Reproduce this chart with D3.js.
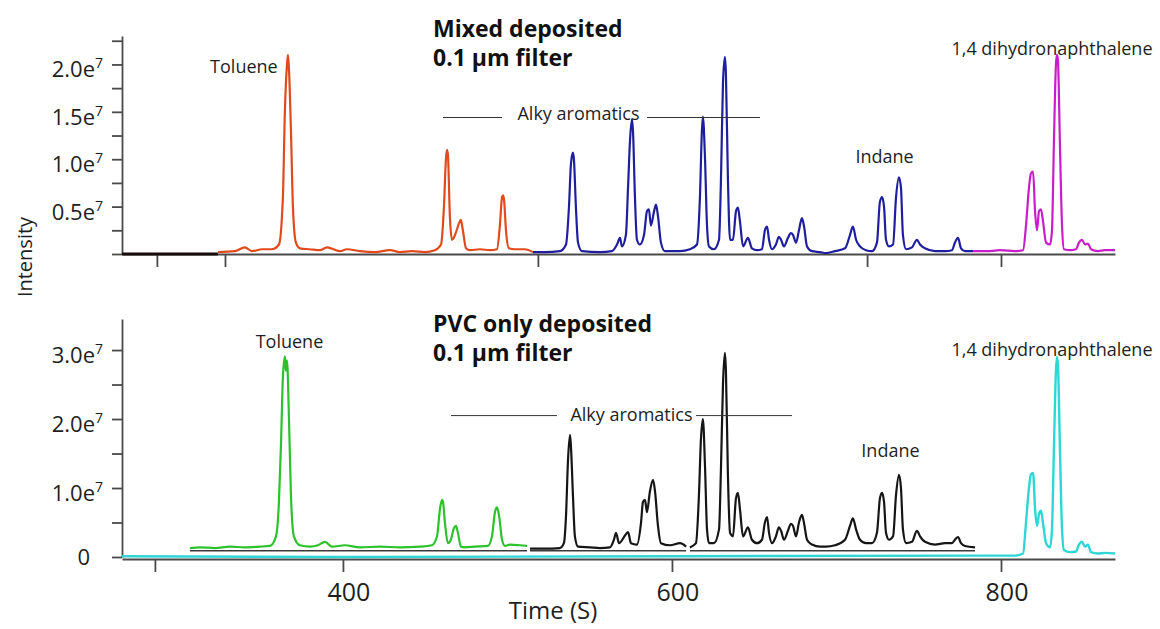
<!DOCTYPE html>
<html>
<head>
<meta charset="utf-8">
<script src="https://cdn.jsdelivr.net/npm/d3@7"></script>
<style>
  html, body { margin: 0; padding: 0; background: #fff; }
  svg { display: block; font-family: "Open Sans", "DejaVu Sans", sans-serif; }
</style>
</head>
<body>
<svg id="chart" width="1160" height="629"></svg>
<script>
// ---------------- DATA (time in s, intensity in units of 1e7) ----------------
const timeDomain = [265.7, 869.3];
const topYMax = 2.3;
const bottomYMax = 3.45;

const topXTicks = [286.9, 328.3, 518.5, 718.6, 800];
const bottomXTicks = [285.7, 400, 600, 800];
const bottomXTickLabels = ["", "400", "600", "800"];

const topYTicks = [0, 0.25, 0.5, 0.75, 1.0, 1.25, 1.5, 1.75, 2.0, 2.25];
const topYTickLabels = ["", "", "0.5e7", "", "1.0e7", "", "1.5e7", "", "2.0e7", ""];
const bottomYTicks = [0, 0.5, 1.0, 1.5, 2.0, 2.5, 3.0];
const bottomYTickLabels = ["0", "", "1.0e7", "", "2.0e7", "", "3.0e7"];

// Mixed deposited trace (segments by colour)
const mixedBlack = [[265.7, 0], [324.0, 0]];
const mixedOrange = [[324.0,0.02],[334.3,0.03],[340.4,0.07],[344.7,0.03],[350.8,0.05],[356.8,0.05],[361.1,0.1],[363.5,0.6],[364.7,1.5],[366.0,2.0],[366.6,2.1],[367.2,1.95],[368.4,1.3],[369.6,0.5],[371.4,0.12],[373.9,0.06],[379.9,0.05],[386.0,0.04],[390.3,0.07],[398.2,0.03],[402.4,0.05],[410.3,0.03],[419.5,0.02],[428.6,0.04],[434.7,0.02],[441.9,0.03],[449.8,0.02],[455.9,0.04],[459.6,0.1],[461.4,0.5],[462.6,1.0],[463.2,1.1],[463.8,1.05],[465.0,0.4],[466.3,0.15],[468.1,0.2],[470.5,0.32],[471.7,0.36],[472.9,0.25],[474.8,0.06],[477.2,0.04],[483.3,0.05],[489.4,0.04],[493.6,0.05],[495.4,0.3],[496.7,0.6],[497.3,0.62],[497.9,0.58],[499.1,0.25],[500.9,0.06],[504.6,0.05],[510.6,0.05],[515.5,0.02]];
const mixedBlue = [[515.5,0.02],[522.8,0.02],[531.9,0.03],[535.6,0.1],[537.4,0.5],[538.6,0.95],[539.8,1.07],[540.4,1.0],[541.6,0.5],[542.9,0.12],[545.3,0.03],[556.2,0.02],[563.5,0.03],[566.6,0.1],[568.4,0.17],[569.6,0.08],[572.0,0.2],[573.3,0.7],[574.5,1.2],[575.7,1.42],[576.3,1.3],[577.5,0.6],[578.7,0.15],[580.5,0.1],[583.0,0.2],[584.8,0.45],[586.0,0.47],[587.2,0.3],[589.1,0.45],[590.3,0.52],[591.5,0.4],[593.3,0.12],[595.7,0.03],[604.9,0.03],[610.9,0.05],[615.2,0.1],[617.0,0.6],[618.2,1.3],[618.8,1.45],[620.1,1.0],[621.3,0.3],[622.5,0.08],[625.5,0.05],[628.6,0.15],[629.8,0.8],[631.0,1.8],[632.2,2.08],[632.8,1.9],[634.0,0.8],[635.3,0.15],[637.1,0.15],[638.9,0.45],[640.1,0.49],[641.3,0.35],[643.2,0.08],[646.2,0.17],[648.6,0.06],[651.7,0.04],[654.7,0.05],[656.5,0.25],[657.8,0.29],[659.0,0.15],[660.8,0.05],[663.2,0.1],[665.0,0.18],[666.3,0.15],[668.1,0.08],[670.5,0.17],[672.3,0.22],[673.6,0.2],[675.4,0.12],[677.2,0.25],[679.0,0.38],[680.2,0.3],[682.1,0.08],[685.1,0.03],[690.0,0.02],[693.6,0.01],[699.1,0.03],[705.2,0.06],[708.2,0.2],[710.0,0.29],[711.9,0.15],[714.3,0.08],[717.9,0.04],[721.6,0.03],[724.6,0.12],[726.4,0.55],[727.7,0.6],[728.9,0.5],[730.1,0.15],[731.9,0.08],[734.4,0.1],[736.2,0.6],[738.0,0.81],[739.2,0.7],[740.4,0.2],[742.3,0.05],[745.9,0.07],[748.9,0.15],[750.8,0.1],[753.8,0.06],[759.9,0.03],[766.0,0.03],[770.2,0.04],[772.0,0.12],[773.9,0.17],[775.7,0.06],[778.1,0.03],[783.0,0.03]];
const mixedMagenta = [[783.0,0.03],[793.3,0.03],[799.4,0.04],[808.5,0.03],[813.4,0.04],[815.2,0.3],[817.0,0.7],[818.2,0.85],[819.5,0.87],[820.7,0.45],[821.9,0.25],[823.1,0.45],[824.3,0.47],[825.5,0.35],[827.4,0.12],[829.8,0.1],[831.0,0.25],[832.2,1.2],[833.4,2.0],[834.0,2.1],[834.6,2.05],[835.9,1.1],[837.1,0.3],[838.3,0.05],[842.0,0.04],[845.6,0.05],[847.4,0.12],[849.2,0.15],[851.1,0.1],[852.9,0.11],[854.7,0.05],[859.0,0.03],[863.2,0.04],[869.3,0.04]];

// PVC only deposited trace
const pvcGreen = [[307.0,0.13],[313.1,0.14],[322.2,0.13],[331.3,0.15],[340.4,0.14],[349.5,0.15],[355.6,0.16],[359.3,0.3],[361.1,0.8],[362.3,1.6],[363.5,2.6],[364.7,2.91],[365.3,2.7],[366.0,2.85],[367.2,2.0],[368.4,0.9],[370.2,0.3],[373.9,0.17],[379.9,0.15],[384.8,0.17],[389.1,0.22],[393.3,0.15],[401.2,0.17],[410.3,0.14],[422.5,0.15],[434.7,0.14],[446.8,0.15],[454.1,0.17],[457.2,0.3],[459.0,0.7],[460.2,0.83],[460.8,0.8],[462.0,0.5],[463.8,0.2],[465.6,0.25],[467.5,0.42],[468.7,0.45],[469.9,0.35],[471.7,0.15],[474.2,0.14],[480.2,0.15],[488.1,0.16],[490.6,0.3],[492.4,0.65],[493.6,0.72],[494.9,0.6],[496.7,0.25],[498.5,0.16],[501.5,0.18],[507.6,0.17],[511.9,0.16]];
const pvcBlackA = [[513.7,0.12],[522.8,0.12],[531.9,0.13],[534.3,0.2],[535.6,0.6],[536.8,1.4],[538.0,1.77],[538.6,1.6],[539.8,0.9],[541.0,0.3],[542.9,0.15],[550.2,0.14],[556.2,0.13],[562.3,0.14],[564.7,0.25],[566.0,0.35],[567.8,0.2],[572.0,0.33],[573.3,0.36],[575.1,0.2],[578.7,0.18],[581.2,0.5],[582.4,0.8],[583.6,0.83],[584.8,0.65],[586.6,0.95],[588.5,1.12],[589.7,0.95],[591.5,0.45],[593.3,0.2],[598.8,0.17],[604.9,0.2],[608.6,0.15]];
const pvcBlackB = [[610.9,0.14],[614.6,0.2],[616.4,0.9],[617.6,1.7],[618.8,2.0],[620.1,1.3],[621.3,0.4],[622.5,0.2],[625.5,0.2],[628.6,0.4],[629.8,1.3],[631.0,2.5],[632.2,2.96],[632.8,2.7],[634.0,1.2],[635.3,0.35],[637.1,0.3],[638.9,0.85],[640.1,0.93],[641.3,0.7],[643.2,0.3],[646.2,0.43],[648.6,0.25],[651.7,0.2],[654.7,0.25],[656.5,0.5],[657.8,0.58],[659.0,0.35],[660.8,0.2],[663.2,0.3],[665.0,0.43],[666.3,0.38],[668.1,0.25],[670.5,0.38],[672.3,0.48],[673.6,0.45],[675.4,0.3],[677.2,0.5],[679.0,0.61],[680.2,0.5],[682.1,0.25],[685.1,0.18],[690.0,0.15],[693.6,0.15],[699.1,0.17],[705.2,0.25],[708.2,0.45],[710.0,0.56],[711.9,0.4],[714.3,0.25],[717.9,0.2],[721.6,0.2],[724.6,0.35],[726.4,0.85],[727.7,0.93],[728.9,0.8],[730.1,0.35],[731.9,0.25],[734.4,0.3],[736.2,0.9],[738.0,1.19],[739.2,1.0],[740.4,0.4],[742.3,0.2],[745.9,0.22],[748.9,0.38],[750.8,0.3],[753.8,0.22],[759.9,0.18],[766.0,0.2],[770.2,0.2],[772.0,0.25],[773.9,0.29],[775.7,0.2],[778.1,0.16],[784.2,0.14]];
const pvcCyan = [[265.7,0.01],[400,0.0],[600,0.01],[793.3,0.02],[808.5,0.02],[813.4,0.05],[815.2,0.5],[817.0,1.0],[818.2,1.2],[819.5,1.22],[820.7,0.7],[821.9,0.45],[823.1,0.62],[824.3,0.67],[825.5,0.5],[827.4,0.2],[829.8,0.14],[831.0,0.4],[832.2,1.6],[833.4,2.7],[834.0,2.9],[834.6,2.8],[835.9,1.5],[837.1,0.4],[838.3,0.1],[842.0,0.07],[845.6,0.08],[847.4,0.18],[849.2,0.22],[851.1,0.15],[852.9,0.18],[854.7,0.07],[859.0,0.05],[863.2,0.06],[869.3,0.05]];
const pvcBaselineSegments = [[307.0, 511.9], [513.7, 608.6], [610.9, 784.2]];
const pvcBaselineLevel = 0.09;

// Annotations
const topTitle = ["Mixed deposited", "0.1 µm filter"];
const bottomTitle = ["PVC only deposited", "0.1 µm filter"];
const topLabels = [
  {text: "Toluene", t: 339.8, v: 1.91},
  {text: "Alky aromatics", t: 543.2, v: 1.41},
  {text: "Indane", t: 729.2, v: 0.96},
  {text: "1,4 dihydronaphthalene", t: 831.0, v: 2.10}
];
const bottomLabels = [
  {text: "Toluene", t: 367.5, v: 3.03},
  {text: "Alky aromatics", t: 575.4, v: 1.97},
  {text: "Indane", t: 732.8, v: 1.45},
  {text: "1,4 dihydronaphthalene", t: 831.0, v: 2.91}
];
const topBracket = {segments: [[460.8, 496.7], [584.8, 653.5]], v: 1.44};
const bottomBracket = {segments: [[465.7, 530.1], [614.6, 673.0]], v: 2.05};

// ---------------- LAYOUT ----------------
const svg = d3.select("#chart");
const xLeft = 122, xRight = 1115;
const x = d3.scaleLinear().domain(timeDomain).range([xLeft, xRight]);
const yTop = d3.scaleLinear().domain([0, topYMax]).range([254, 36]);
const yBot = d3.scaleLinear().domain([0, bottomYMax]).range([557, 319]);

const axisColor = "#4a4a4a";
const textColor = "#1e1e1e";

function styleAxis(g) {
  g.selectAll(".domain").attr("stroke", axisColor).attr("stroke-width", 1.8);
  g.selectAll(".tick line").attr("stroke", axisColor).attr("stroke-width", 1.8);
  g.selectAll(".tick text").remove();
}

function drawPanel(y, yTicks, yLabels, xTicks, xLabels, xAxisY) {
  const gx = svg.append("g").attr("transform", `translate(0,${xAxisY})`)
    .call(d3.axisBottom(x).tickValues(xTicks).tickSize(13).tickSizeOuter(0).tickFormat(""));
  styleAxis(gx);
  const gy = svg.append("g").attr("transform", `translate(${xLeft},0)`)
    .call(d3.axisLeft(y).tickValues(yTicks).tickSize(10).tickSizeOuter(0).tickFormat(""));
  styleAxis(gy);
  yLabels.forEach((lab, i) => {
    if (!lab) return;
    const yy = y(yTicks[i]);
    const m = lab.match(/^(.*e)(\d+)$/);
    const t = svg.append("text").attr("fill", textColor).attr("font-size", 22)
      .attr("text-anchor", "end");
    if (m) {
      t.attr("x", 103).attr("y", yy + 13);
      t.append("tspan").text(m[1]);
      t.append("tspan").attr("font-size", 14).attr("dy", -9).text(m[2]);
    } else {
      t.attr("x", 90).attr("y", yy + 8).text(lab);
    }
  });
  if (xLabels) {
    xLabels.forEach((lab, i) => {
      if (!lab) return;
      svg.append("text").attr("fill", textColor).attr("font-size", 25)
        .attr("text-anchor", "middle")
        .attr("x", x(xTicks[i]) + 6).attr("y", 601).text(lab);
    });
  }
}

drawPanel(yTop, topYTicks, topYTickLabels, topXTicks, null, 254);
drawPanel(yBot, bottomYTicks, bottomYTickLabels, bottomXTicks, bottomXTickLabels, 559);

function trace(data, y, color, width) {
  const line = d3.line().x(d => x(d[0])).y(d => y(d[1])).curve(d3.curveMonotoneX);
  svg.append("path").datum(data).attr("d", line)
    .attr("fill", "none").attr("stroke", color).attr("stroke-width", width)
    .attr("stroke-linejoin", "round");
}

pvcBaselineSegments.forEach(s => {
  svg.append("line")
    .attr("x1", x(s[0])).attr("x2", x(s[1]))
    .attr("y1", yBot(pvcBaselineLevel)).attr("y2", yBot(pvcBaselineLevel))
    .attr("stroke", "#3a3a3a").attr("stroke-width", 1.6);
});

trace(mixedBlack, yTop, "#1a0c0c", 3);
trace(mixedOrange, yTop, "#e04a1c", 2.2);
trace(mixedBlue, yTop, "#1f1f9e", 2.2);
trace(mixedMagenta, yTop, "#c81ec8", 2.2);

trace(pvcCyan, yBot, "#2ed6d6", 2.4);
trace(pvcGreen, yBot, "#2bc22b", 2.2);
trace(pvcBlackA, yBot, "#151515", 2.2);
trace(pvcBlackB, yBot, "#151515", 2.2);

function title(lines, baseY) {
  lines.forEach((s, i) => {
    svg.append("text").attr("x", 433).attr("y", baseY + i * 29)
      .attr("font-size", 23).attr("font-weight", "bold").attr("fill", "#111").text(s);
  });
}
title(topTitle, 37);
title(bottomTitle, 332);

function annotate(labels, bracket, y) {
  bracket.segments.forEach(s => {
    svg.append("line").attr("x1", x(s[0])).attr("x2", x(s[1]))
      .attr("y1", y(bracket.v)).attr("y2", y(bracket.v))
      .attr("stroke", "#333").attr("stroke-width", 1);
  });
  labels.forEach(l => {
    svg.append("text").attr("x", x(l.t)).attr("y", y(l.v))
      .attr("text-anchor", "middle").attr("font-size", 18)
      .attr("fill", textColor).text(l.text);
  });
}
annotate(topLabels, topBracket, yTop);
annotate(bottomLabels, bottomBracket, yBot);

svg.append("text").attr("transform", "translate(32,257) rotate(-90)")
  .attr("text-anchor", "middle").attr("font-size", 20).attr("fill", textColor).text("Intensity");
svg.append("text").attr("x", 553).attr("y", 619)
  .attr("text-anchor", "middle").attr("font-size", 24).attr("fill", textColor).text("Time (S)");
</script>
</body>
</html>
